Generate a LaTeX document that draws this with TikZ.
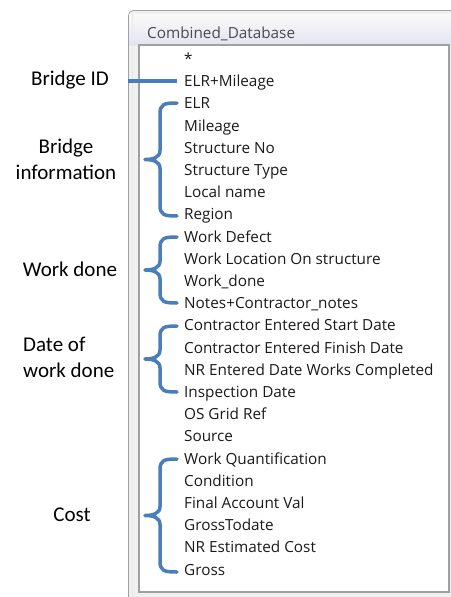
\documentclass[tikz,border=0pt]{standalone}
\usepackage{fontspec}
\setmainfont{Carlito}
\newfontfamily\listfont{Open Sans}
\definecolor{braceblue}{HTML}{4A7EBB}
\definecolor{framegray}{HTML}{F0F0F0}
\definecolor{edgegray}{HTML}{A0A0A0}
\definecolor{fieldtext}{HTML}{1A1A1A}
\definecolor{titletext}{HTML}{4A4A4A}
\begin{document}
\begin{tikzpicture}[x=1pt,y=-1pt,
  field/.style={anchor=base west, inner sep=0pt,
    font=\listfont\fontsize{15.3}{18}\selectfont, text=fieldtext},
  group/.style={inner sep=0pt, font=\fontsize{21}{26}\selectfont, text=black},
  bracestroke/.style={draw=braceblue, line width=3.5pt, line cap=round, line join=round}]
\useasboundingbox (0,0) rectangle (450,597);
\fill[white] (0,0) rectangle (450,597);

% window frame
\filldraw[fill=framegray, draw=edgegray, line width=0.8pt, rounded corners=5pt]
  (128.5,600) -- (128.5,10.5) -- (455,10.5) -- (455,600);
\shade[top color=white!96!gray, bottom color=white!88!gray!95!blue]
  (129,14) rectangle (452,45);
\draw[white!82!gray, line width=0.6pt] (132,14) -- (132,600);
\node[anchor=base west, inner sep=0pt, font=\listfont\fontsize{15.3}{18}\selectfont,
  text=titletext] (title) at (147,38) {Combined\_Database};

% field list box
\filldraw[fill=white, draw=edgegray, line width=1.1pt] (139,45) rectangle (449,592);

% field names, one row every 22.2pt
\foreach \txt [count=\k from 0] in {
  *, ELR+Mileage, ELR, Mileage, Structure No, Structure Type, Local name, Region,
  Work Defect, Work Location On structure, Work\_done, Notes+Contractor\_notes,
  Contractor Entered Start Date, Contractor Entered Finish Date,
  NR Entered Date Works Completed, Inspection Date, OS Grid Ref, Source,
  Work Quantification, Condition, Final Account Val, GrossTodate,
  NR Estimated Cost, Gross}
  \node[field] (f\k) at (184,{64.5+22.2*\k}) {\txt};

% group labels
\node[group] (gid) at (70,80) {Bridge ID};
\node[group, align=center] (ginfo) at (66,159) {Bridge\\information};
\node[group] (gwork) at (70,269) {Work done};
\node[group, align=left, anchor=west] (gdate) at (23,357) {Date of\\work done};
\node[group] (gcost) at (72,515) {Cost};

% connector for the key field
\coordinate (idstart) at (128,81);
\draw[bracestroke, line cap=butt] (idstart) -- (177,81);

% curly braces spanning each group of fields
\foreach \top/\bot in {103/216, 237/303, 326/392, 459/572}{
  \pgfmathsetmacro{\mid}{(\top+\bot)/2}
  \draw[bracestroke]
    (177,\top) .. controls (164,\top) and (160,\top+1) .. (160,\top+11)
    -- (160,\mid-9) .. controls (160,\mid-2) and (153,\mid) .. (145,\mid)
    .. controls (153,\mid) and (160,\mid+2) .. (160,\mid+9)
    -- (160,\bot-11) .. controls (160,\bot-1) and (164,\bot) .. (177,\bot);
}
\end{tikzpicture}
\end{document}
